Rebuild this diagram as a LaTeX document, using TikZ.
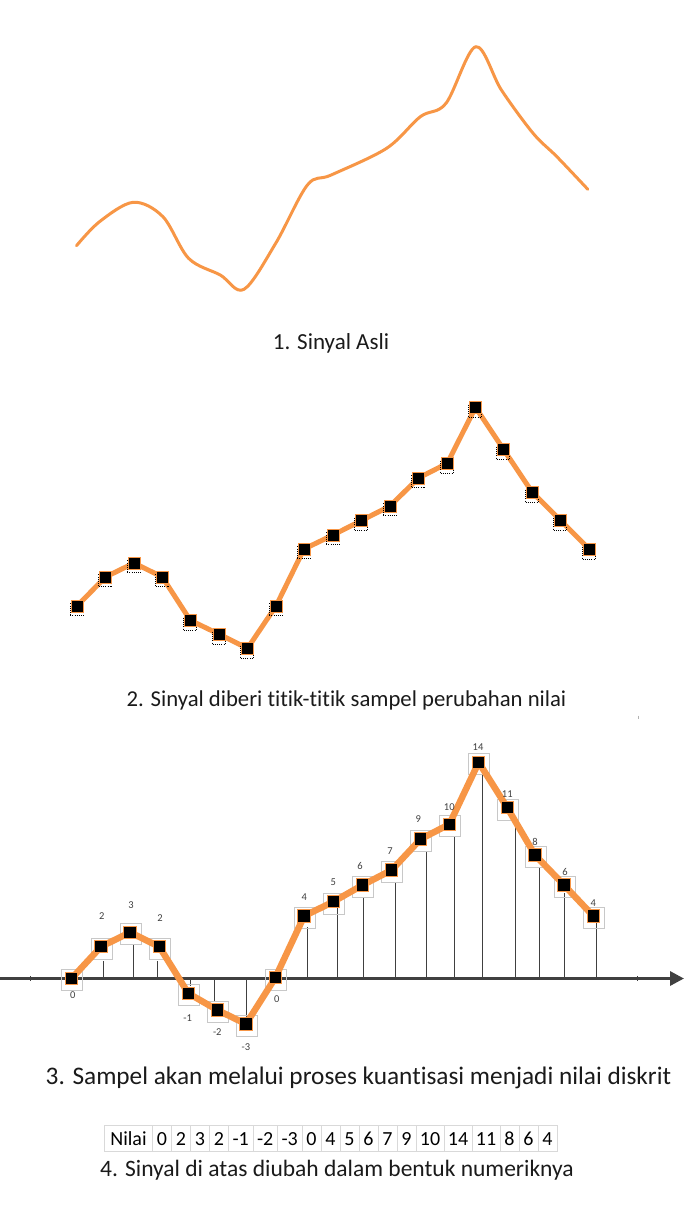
\documentclass[tikz,border=0pt]{standalone}
\usepackage{fontspec}
\setmainfont{Carlito}[Ligatures=NoCommon]
\usetikzlibrary{arrows.meta}
\definecolor{sigor}{HTML}{F79646}
\definecolor{axgray}{HTML}{404040}
\definecolor{boxgray}{HTML}{C8C8C8}
\definecolor{cellgray}{HTML}{D9D9D9}
\definecolor{txt}{HTML}{1A1A1A}
\begin{document}
\begin{tikzpicture}[x=1pt,y=-1pt,
  caption/.style={text=txt, inner sep=0, anchor=base},
  sig1/.style={draw=sigor, line width=3pt, line cap=round, line join=round},
  sig2/.style={draw=sigor, line width=5pt, line cap=round, line join=round},
  sig3/.style={draw=sigor, line width=6.5pt, line cap=round, line join=round},
  sqr/.style={draw=sigor, fill=black, line width=1pt, minimum size=12pt, inner sep=0, outer sep=0},
  dotshadow/.style={draw=black, line width=0.9pt, dash pattern=on 0.9pt off 1.3pt, minimum size=13pt, inner sep=0},
  gbox/.style={draw=boxgray, line width=0.9pt, minimum size=21pt, inner sep=0},
  stem/.style={draw=axgray, line width=0.8pt},
  vlab/.style={font=\fontsize{10.5}{12}\selectfont, text=axgray, inner sep=0},
  cell/.style={draw=cellgray, line width=0.9pt, minimum height=26pt, inner sep=0, outer sep=0,
    font=\fontsize{20}{24}\selectfont, text height=13pt, text depth=0pt, text=black},
]
\useasboundingbox (0,0) rectangle (684,1211);

% ---------- 1. original signal ----------
\draw[sig1] plot[smooth, tension=0.55] coordinates {(76.5,245.7) (99.5,221.7) (133.2,202.3) (162.9,216.7) (188.6,258.3) (220.3,275) (244,289.3) (275.7,243.3) (307.4,185) (331.2,175) (386.6,148.3) (420.3,116.7) (446,103.3) (475.7,46.7) (501.4,90) (533.1,133.3) (556.9,156.7) (587.8,189.3)};
\node[caption, font=\fontsize{23}{26}\selectfont] (c1) at (331,349.5) {1. Sinyal Asli};

% ---------- 2. sampled signal ----------
\def\ptwo{77/606, 105.5/577, 134/563, 162.3/577, 190.3/620.3, 219.3/634.3, 247.5/648.3, 276/606, 304/549, 333/535, 361.5/520.5, 390/506, 418.5/478, 447.3/463.3, 475.5/407.3, 503.5/449.3, 532.3/492.3, 560.5/520.3, 589.3/549.3}
\foreach \x/\y [count=\i] in \ptwo { \coordinate (a\i) at (\x,\y); }
\foreach \i [remember=\i as \j (initially 1)] in {2,...,19} { \draw[sig2] (a\j) -- (a\i); }
\foreach \x/\y [count=\i] in \ptwo {
  \node[dotshadow] (d\i) at (\x-0.3,\y+3.2) {};
  \node[sqr] (s\i) at (a\i) {};
}
\node[caption, font=\fontsize{22.7}{26}\selectfont] (c2) at (346.5,706.5) {2. Sinyal diberi titik-titik sampel perubahan nilai};

% ---------- 3. quantised samples ----------
\draw[gray!60, line width=0.8pt] (638,715.5) -- (638,718.5);
\coordinate (axL) at (0,978.5);
\coordinate (axR) at (684,978.5);
\draw[axgray, line width=3.2pt, -{Triangle[length=14pt,width=14pt]}] (axL) -- (axR);
\draw[axgray, line width=1pt] (30,976) -- (30,981);
\draw[axgray, line width=1pt] (637.7,976) -- (637.7,981);

\def\pthree{71.7/978.3/72.7/995/0/0/0,
101/946.7/101.7/916/2/103.7/961,
130/932.3/131/905/3/133.3/945,
159.3/946.7/160/917.7/2/157.3/961,
188.3/993.3/187.7/1018/-1/190/986,
217.3/1010/217.3/1032/-2/214.3/1001.7,
246/1024/246/1046.7/-3/246.7/1018,
275.3/977.7/276.7/999.3/0/0/0,
304.2/916/304.3/896.7/4/307.3/926.7,
333.3/901.7/333.3/882.3/5/337.7/908,
362.7/885/360/865.7/6/363.3/898,
391.7/870/390/850.7/7/395/882.7,
420.7/839/418.3/819.3/9/426.7/851.7,
449.3/824.3/449.3/807.3/10/454.3/836.7,
478.7/762.3/478/746.7/14/482.3/773.3,
507.3/807.7/507.3/794/11/515.7/821.7,
535/855/535/841.7/8/539.3/868.3,
564/885/565/872.3/6/564.3/893.3,
593.3/916/593.3/903.3/4/596/923.3}

\foreach \x/\y/\lx/\ly/\v/\sx/\se [count=\i] in \pthree {
  \coordinate (p\i) at (\x,\y);
  \ifnum\v=0\relax\else
    \coordinate (f\i) at (\sx,978.5);
    \coordinate (e\i) at (\sx,\se);
    \draw[stem] (f\i) -- (e\i);
  \fi
  \node[gbox] (b\i) at (\x+0.6,\y+1.8) {};
}
\foreach \i [remember=\i as \j (initially 1)] in {2,...,19} { \draw[sig3] (p\j) -- (p\i); }
\foreach \x/\y/\lx/\ly/\v/\sx/\se [count=\i] in \pthree {
  \node[sqr, minimum size=12.5pt] (q\i) at (p\i) {};
  \node[vlab] (l\i) at (\lx,\ly) {\v};
}
\node[caption, font=\fontsize{25.3}{28}\selectfont] (c3) at (358.5,1084.5) {3. Sampel akan melalui proses kuantisasi menjadi nilai diskrit};

% ---------- 4. numeric table ----------
\node[inner sep=0, outer sep=0, minimum size=0pt] (t0) at (104.5,1138.5) {};
\foreach \w/\t [count=\i, remember=\i as \j (initially 0)] in {48/Nilai, 19/0, 19/2, 19/3, 19/2, 24.5/-1, 24.5/-2, 24.5/-3, 19/0, 19/4, 19/5, 19/6, 19/7, 19/9, 28/10, 28/14, 28/11, 19/8, 19/6, 19/4} {
  \node[cell, minimum width=\w pt, anchor=west] (t\i) at (t\j.east) {\t};
}
\node[caption, font=\fontsize{23.5}{27}\selectfont] (c4) at (337,1176.5) {4. Sinyal di atas diubah dalam bentuk numeriknya};
\end{tikzpicture}
\end{document}
